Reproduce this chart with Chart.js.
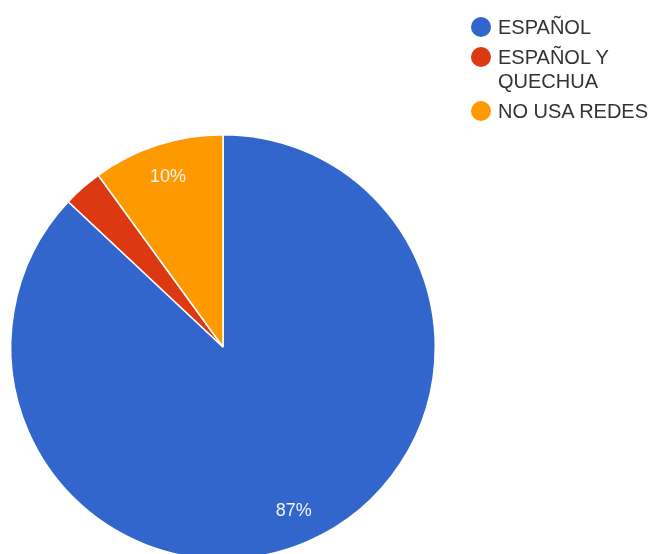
<!DOCTYPE html>
<html>
<head>
<meta charset="utf-8">
<script src="https://cdn.jsdelivr.net/npm/chart.js@4"></script>
<style>
    body { margin: 0; background: #fff; overflow: hidden; }
    #wrap { position: relative; width: 651px; height: 554px; overflow: hidden; }
    #pie { position: absolute; left: 0; top: 0; }
    #legend { position: absolute; left: 471px; top: 15px; font-family: "Liberation Sans", Arial, sans-serif; font-size: 20px; color: #333; white-space: nowrap; }
    .item { display: flex; align-items: flex-start; margin-bottom: 6px; line-height: 24px; }
    .dot { width: 20px; height: 20px; border-radius: 50%; margin-right: 7px; margin-top: 2px; flex: none; }
</style>
</head>
<body>
<div id="wrap">
    <canvas id="pie" width="651" height="600"></canvas>
    <div id="legend"></div>
</div>
<script>
const labels = [['ESPAÑOL'], ['ESPAÑOL Y', 'QUECHUA'], ['NO USA REDES']];
const values = [87, 3, 10];
const colors = ['#3366cc', '#dc3912', '#ff9900'];

// percentage text inside the bigger slices
const sliceLabels = {
    id: 'sliceLabels',
    afterDatasetsDraw(chart) {
        const ctx = chart.ctx;
        const total = values.reduce((a, b) => a + b, 0);
        chart.getDatasetMeta(0).data.forEach((arc, i) => {
            const pct = Math.round(values[i] / total * 100);
            if (pct < 5) return;
            const mid = (arc.startAngle + arc.endAngle) / 2;
            const r = arc.outerRadius * 0.84;
            ctx.save();
            ctx.fillStyle = '#f4f4f4';
            ctx.font = '18px "Liberation Sans", Arial, sans-serif';
            ctx.textAlign = 'center';
            ctx.textBaseline = 'middle';
            ctx.fillText(pct + '%', arc.x + Math.cos(mid) * r, arc.y + Math.sin(mid) * r);
            ctx.restore();
        });
    }
};

new Chart(document.getElementById('pie'), {
    type: 'pie',
    data: {
        labels: labels.map(l => l.join(' ')),
        datasets: [{
            data: values,
            backgroundColor: colors,
            borderColor: '#ffffff',
            borderWidth: 1.5
        }]
    },
    options: {
        responsive: false,
        animation: false,
        layout: { padding: { left: 10, right: 215, top: 134, bottom: 40 } },
        plugins: {
            legend: { display: false },
            tooltip: { enabled: false }
        }
    },
    plugins: [sliceLabels]
});

const legend = document.getElementById('legend');
labels.forEach((lines, i) => {
    const item = document.createElement('div');
    item.className = 'item';
    item.innerHTML = '<span class="dot" style="background:' + colors[i] + '"></span><span>' + lines.join('<br>') + '</span>';
    legend.appendChild(item);
});
</script>
</body>
</html>
